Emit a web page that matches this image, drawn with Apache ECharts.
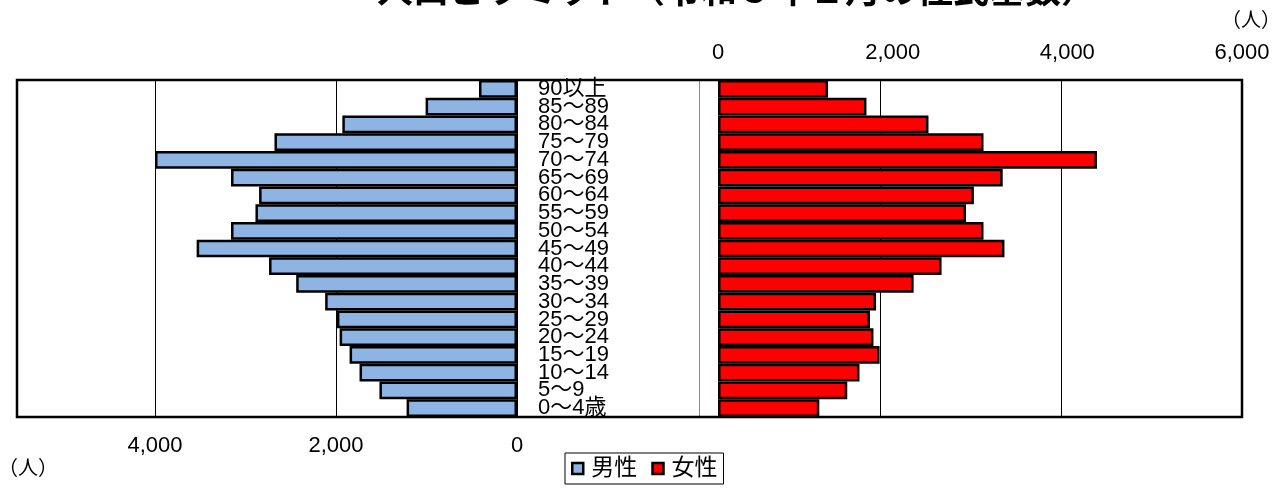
<!DOCTYPE html>
<html>
<head>
<meta charset="utf-8">
<script src="https://cdn.jsdelivr.net/npm/echarts@6/dist/echarts.min.js"></script>
<style>
html,body{margin:0;padding:0;background:#fff;}
#c{width:1281px;height:489px;}
</style>
</head>
<body>
<div id="c"></div>
<script>
// Age groups, bottom to top
const ageLabels = ['0～4歳','5～9','10～14','15～19','20～24','25～29','30～34','35～39','40～44','45～49','50～54','55～59','60～64','65～69','70～74','75～79','80～84','85～89','90以上'];
const maleValues = [1220,1520,1740,1850,1960,1990,2120,2440,2740,3540,3160,2890,2850,3160,4000,2680,1930,1010,420];
const femaleValues = [1160,1480,1620,1850,1780,1740,1810,2240,2560,3280,3040,2840,2930,3260,4340,3040,2410,1700,1260];
const seriesNames = ['男性','女性'];
const unitLabel = '（人）';
const titleText = '人口ピラミッド（令和５年１月の住民基数）';
const maleAxisMax = 5525;
const femaleAxisMax = 6000;
const tickStep = 2000;

const FONT = "'Liberation Sans','Noto Sans CJK JP',sans-serif";
const fmt = v => String(v).replace(/\B(?=(\d{3})+(?!\d))/g, ',');

const chart = echarts.init(document.getElementById('c'), null, {renderer:'canvas'});
chart.setOption({
  animation: false,
  backgroundColor: '#fff',
  textStyle: {fontFamily: FONT, color: '#000'},
  legend: {
    data: seriesNames,
    left: 565, top: 453,
    padding: [4, 6],
    borderColor: '#000', borderWidth: 1,
    itemWidth: 11, itemHeight: 11, itemGap: 14,
    icon: 'rect',
    itemStyle: {borderColor: '#000', borderWidth: 2.5},
    textStyle: {fontFamily: FONT, fontSize: 23, color: '#000', padding: [0,0,0,3]}
  },
  grid: [
    {left: 17, right: 764, top: 80, bottom: 72, containLabel: false},
    {left: 718, right: 39, top: 80, bottom: 72, containLabel: false},
    {left: 699, right: 39, top: 80, bottom: 72, containLabel: false}
  ],
  xAxis: [
    {gridIndex: 0, type: 'value', inverse: true, min: 0, max: maleAxisMax, interval: tickStep,
     position: 'bottom',
     axisLine: {show: false}, axisTick: {show: false},
     axisLabel: {fontSize: 22, color: '#000', margin: 18, formatter: fmt, showMaxLabel: false, fontFamily: FONT},
     splitLine: {show: true, lineStyle: {color: '#000', width: 1}}},
    {gridIndex: 1, type: 'value', min: 0, max: femaleAxisMax, interval: tickStep,
     position: 'top',
     axisLine: {show: false}, axisTick: {show: false},
     axisLabel: {fontSize: 22, color: '#000', margin: 16, formatter: fmt, fontFamily: FONT},
     splitLine: {show: false}},
    {gridIndex: 2, type: 'value', min: 0, max: femaleAxisMax, interval: tickStep,
     position: 'bottom',
     axisLine: {show: false}, axisTick: {show: false}, axisLabel: {show: false},
     splitLine: {show: true, lineStyle: {color: ['#888888','#000','#000','#000'], width: 1}}}
  ],
  yAxis: [
    {gridIndex: 0, type: 'category', data: ageLabels, position: 'right',
     axisLine: {show: false}, axisTick: {show: false},
     axisLabel: {fontSize: 22, color: '#000', margin: 21, align: 'left', fontFamily: FONT, interval: 0, lineHeight: 18}},
    {gridIndex: 1, type: 'category', data: ageLabels,
     axisLine: {show: false}, axisTick: {show: false}, axisLabel: {show: false}},
    {gridIndex: 2, type: 'category', data: ageLabels,
     axisLine: {show: false}, axisTick: {show: false}, axisLabel: {show: false}}
  ],
  series: [
    {name: seriesNames[0], type: 'bar', xAxisIndex: 0, yAxisIndex: 0, data: maleValues,
     barCategoryGap: '0%', itemStyle: {color: '#8DB4E2', borderColor: '#000', borderWidth: 2.5}},
    {name: seriesNames[1], type: 'bar', xAxisIndex: 1, yAxisIndex: 1, data: femaleValues,
     barCategoryGap: '0%', itemStyle: {color: '#FF0000', borderColor: '#000', borderWidth: 2.5}},
    {name: 'grid', type: 'bar', xAxisIndex: 2, yAxisIndex: 2, data: [], silent: true}
  ],
  graphic: [
    {type: 'rect', z: 100, silent: true,
     shape: {x: 17, y: 80, width: 1225, height: 337},
     style: {fill: 'none', stroke: '#000', lineWidth: 2.5}},
    {type: 'text', z: 100, silent: true, x: 737, y: 11,
     style: {text: titleText, font: "bold 36px " + FONT, fill: '#000', textAlign: 'center', textVerticalAlign: 'bottom'}},
    {type: 'text', z: 100, silent: true, x: 1281, y: 21,
     style: {text: unitLabel, font: "20px " + FONT, fill: '#000', textAlign: 'right', textVerticalAlign: 'middle'}},
    {type: 'text', z: 100, silent: true, x: -2, y: 469,
     style: {text: unitLabel, font: "20px " + FONT, fill: '#000', textAlign: 'left', textVerticalAlign: 'middle'}}
  ]
});
</script>
</body>
</html>
